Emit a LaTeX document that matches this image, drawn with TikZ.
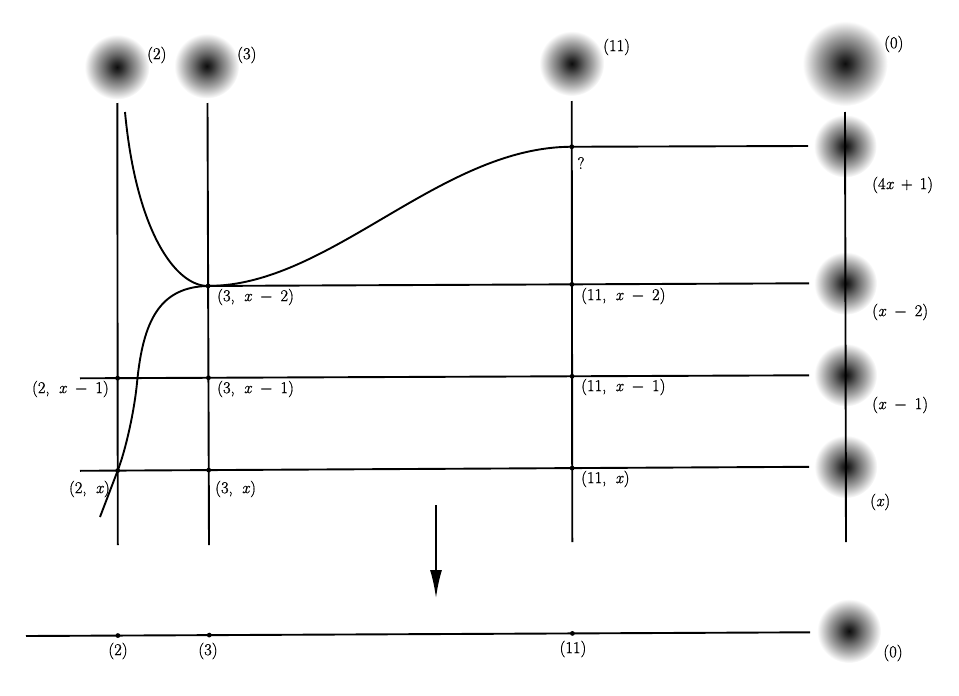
\documentclass[tikz,border=0pt]{standalone}
\usepackage{fontspec}
\newfontfamily\labfont[FakeBold=0.9]{Latin Modern Roman}
\usetikzlibrary{arrows.meta}
\pgfdeclareradialshading{blobshade}{\pgfpoint{0bp}{0bp}}{color(0bp)=(black!95);color(4bp)=(black!82);color(10bp)=(black!58);color(16bp)=(black!36);color(21bp)=(black!16);color(25bp)=(white);color(50bp)=(white)}
\newcommand{\vx}{\textit{x}}
\newcommand{\mn}{\hspace{0.5em}\char"2212\hspace{0.5em}}
\newcommand{\pl}{\hspace{0.42em}+\hspace{0.42em}}
\newcommand{\cm}{,\hspace{0.55em}}
\begin{document}
\begin{tikzpicture}[x=1pt,y=-1pt,
  ln/.style={line width=1.9pt},
  dotm/.style={circle,fill=black,inner sep=0pt,minimum size=4.8pt},
  lab/.style={inner sep=0pt,font=\fontsize{16.5}{18}\labfont},
  blobnode/.style={circle,shade,shading=blobshade,inner sep=0pt,minimum size=#1}]
\useasboundingbox (0,0) rectangle (959,696);
% blobs
\node[blobnode=65pt] (B2)  at (117,67) {};
\node[blobnode=65pt] (B3)  at (206.7,66) {};
\node[blobnode=65pt] (B11) at (571.7,63.5) {};
\node[blobnode=85pt] (B0)  at (845,63.5) {};
\node[blobnode=63pt] (Bq)  at (845.2,146) {};
\node[blobnode=63pt] (Bm2) at (845.5,283.3) {};
\node[blobnode=63pt] (Bm1) at (845.6,375) {};
\node[blobnode=63pt] (Bx)  at (845.8,466.7) {};
\node[blobnode=64pt] (Bb)  at (849,631) {};
% line ends
\coordinate (v2a) at (117.3,103); \coordinate (v2b) at (117.8,545);
\coordinate (v3a) at (207.5,103); \coordinate (v3b) at (209,545);
\coordinate (v11a) at (571.7,101); \coordinate (v11b) at (572.3,542);
\coordinate (v0a) at (845,112); \coordinate (v0b) at (846,542);
\coordinate (hqL) at (560,146.8); \coordinate (hqR) at (808,146);
\coordinate (h2L) at (200,286); \coordinate (h2R) at (809,283.3);
\coordinate (h1L) at (80,378.3); \coordinate (h1R) at (809,375.3);
\coordinate (h0L) at (80,470.8); \coordinate (h0R) at (809,466.8);
\coordinate (bL) at (26,636); \coordinate (bR) at (810,632.3);
% intersections
\coordinate (p11q) at (intersection of hqL--hqR and v11a--v11b);
\coordinate (p3m2) at (intersection of h2L--h2R and v3a--v3b);
\coordinate (p11m2) at (intersection of h2L--h2R and v11a--v11b);
\coordinate (p2m1) at (intersection of h1L--h1R and v2a--v2b);
\coordinate (p3m1) at (intersection of h1L--h1R and v3a--v3b);
\coordinate (p11m1) at (intersection of h1L--h1R and v11a--v11b);
\coordinate (p2x) at (intersection of h0L--h0R and v2a--v2b);
\coordinate (p3x) at (intersection of h0L--h0R and v3a--v3b);
\coordinate (p11x) at (intersection of h0L--h0R and v11a--v11b);
\coordinate (q2) at (intersection of bL--bR and v2a--v2b);
\coordinate (q3) at (intersection of bL--bR and v3a--v3b);
\coordinate (q11) at (intersection of bL--bR and v11a--v11b);
% lines
\draw[ln] (v2a) -- (v2b);
\draw[ln] (v3a) -- (v3b);
\draw[ln] (v11a) -- (v11b);
\draw[ln] (v0a) -- (v0b);
\draw[ln] (p11q) -- (hqR);
\draw[ln] (p3m2) -- (h2R);
\draw[ln] (h1L) -- (h1R);
\draw[ln] (h0L) -- (h0R);
\draw[ln] (bL) -- (bR);
% curves
\coordinate (c1s) at (125,112);
\coordinate (c2m) at (137,383);
\coordinate (c2e) at (100,517);
\draw[ln] (c1s) .. controls (136,230) and (175,286.2) .. (p3m2);
\draw[ln] (p3m2) .. controls (160,287) and (143,320) .. (c2m)
  .. controls (134.1,413) and (125,452) .. (p2x) -- (c2e);
\draw[ln] (p3m2) .. controls (330,286) and (440,146.8) .. (p11q);
% arrow
\coordinate (ar1) at (436,505); \coordinate (ar2) at (436,598);
\draw[line width=1.9pt,-{Latex[length=28pt,width=12pt]}] (ar1) -- (ar2);
% dots
\foreach \p in {p11q,p3m2,p11m2,p2m1,p3m1,p11m1,p2x,p3x,p11x,q2,q3,q11}
  \node[dotm] at (\p) {};
% labels
\node[lab,anchor=west] (L2) at (147,55) {(2)};
\node[lab,anchor=west] (L3) at (237,55) {(3)};
\node[lab,anchor=west] (L11) at (603,47) {(11)};
\node[lab,anchor=west] (L0) at (884,44) {(0)};
\node[lab] (Lq) at (581,163) {?};
\node[lab,anchor=west] (Lq1) at (872,185) {(4\vx\pl 1)};
\node[lab,anchor=west] (Lm2) at (872,312) {(\vx\mn 2)};
\node[lab,anchor=west] (Lm1) at (872,405) {(\vx\mn 1)};
\node[lab,anchor=west] (Lx) at (870,502) {(\vx)};
\node[lab,anchor=west] (L3m2) at (217,297) {(3\cm\vx\mn 2)};
\node[lab,anchor=west] (L11m2) at (581,296) {(11\cm\vx\mn 2)};
\node[lab,anchor=west] (L3m1) at (217,389) {(3\cm\vx\mn 1)};
\node[lab,anchor=west] (L11m1) at (581,387) {(11\cm\vx\mn 1)};
\node[lab,anchor=east] (L2m1) at (109,389) {(2\cm\vx\mn 1)};
\node[lab,anchor=east] (L2x) at (110,489) {(2\cm\vx)};
\node[lab,anchor=west] (L3x) at (215,489) {(3\cm\vx)};
\node[lab,anchor=west] (L11x) at (581,479) {(11\cm\vx)};
\node[lab] (Lb2) at (118,651) {(2)};
\node[lab] (Lb3) at (208,651) {(3)};
\node[lab] (Lb11) at (573,649) {(11)};
\node[lab] (Lb0) at (893,653) {(0)};
\end{tikzpicture}
\end{document}
